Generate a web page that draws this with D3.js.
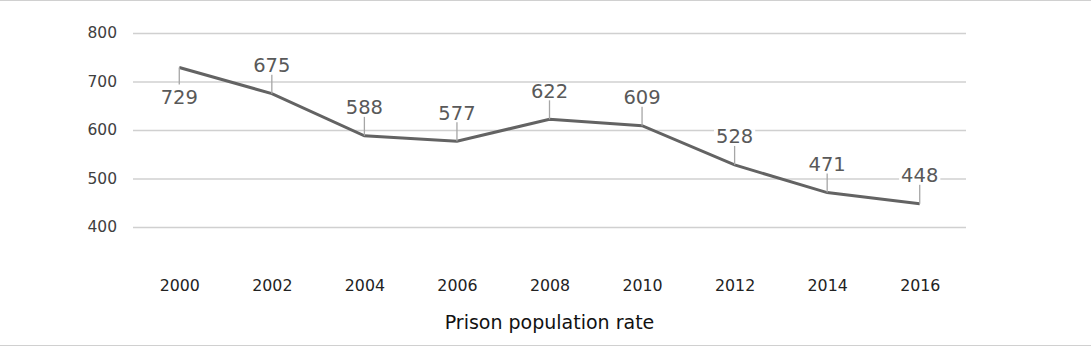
<!DOCTYPE html>
<html>
<head>
<meta charset="utf-8">
<script src="https://cdn.jsdelivr.net/npm/d3@7"></script>
<style>
html,body{margin:0;padding:0;background:#fff;}
svg{display:block;font-family:"DejaVu Sans",Verdana,sans-serif;}
</style>
</head>
<body>
<svg id="chart" width="1091" height="348"></svg>
<script>
const years = ["2000","2002","2004","2006","2008","2010","2012","2014","2016"];
const rates = [729, 675, 588, 577, 622, 609, 528, 471, 448];
const yTicks = [400, 500, 600, 700, 800];
const labelBelow = [true, false, false, false, false, false, false, false, false];
const title = "Prison population rate";

const W = 1091, H = 348;
const svg = d3.select("#chart");

// frame lines
svg.append("line").attr("x1",0).attr("x2",W).attr("y1",0.5).attr("y2",0.5)
  .attr("stroke","#d0d0d0").attr("stroke-width",1);
svg.append("line").attr("x1",0).attr("x2",W).attr("y1",345.5).attr("y2",345.5)
  .attr("stroke","#d0d0d0").attr("stroke-width",1);

const x = d3.scalePoint().domain(years).range([133, 966]).padding(0.5);
const y = d3.scaleLinear().domain([400, 800]).range([227, 33]);

// grid
const yAxis = d3.axisLeft(y).tickValues(yTicks).tickSize(0).tickPadding(16)
  .tickFormat(d3.format("d"));
const gy = svg.append("g").attr("transform","translate(133,0)").call(yAxis);
gy.select(".domain").remove();
gy.selectAll("text").attr("font-size",15.5).attr("fill","#404040")
  .attr("font-family","'DejaVu Sans',Verdana,sans-serif");
gy.selectAll(".tick").append("line").attr("x1",0).attr("x2",833)
  .attr("stroke","#d0d0d0").attr("stroke-width",1.3);

// x axis labels
const xAxis = d3.axisBottom(x).tickSize(0).tickPadding(0);
const gx = svg.append("g").attr("transform","translate(0,280)").call(xAxis);
gx.select(".domain").remove();
gx.selectAll("text").attr("font-size",15.8).attr("fill","#222")
  .attr("font-family","'DejaVu Sans',Verdana,sans-serif");

// line
const data = years.map((yr,i)=>({yr, v: rates[i], below: labelBelow[i]}));
const line = d3.line().x(d=>x(d.yr)).y(d=>y(d.v));
svg.append("path").datum(data).attr("d", line)
  .attr("fill","none").attr("stroke","#636363").attr("stroke-width",3)
  .attr("stroke-linejoin","miter");

// labels with leaders
const lg = svg.append("g");
data.forEach(d=>{
  const px = x(d.yr), py = y(d.v);
  const g = lg.append("g");
  if (d.below) {
    g.append("line").attr("x1",px).attr("x2",px).attr("y1",py).attr("y2",py+17)
      .attr("stroke","#a6a6a6").attr("stroke-width",1.3);
  } else {
    g.append("line").attr("x1",px).attr("x2",px).attr("y1",py-19).attr("y2",py)
      .attr("stroke","#a6a6a6").attr("stroke-width",1.3);
  }
  const t = g.append("text").attr("x",px).attr("y", d.below ? py+37 : py-21.5)
    .attr("text-anchor","middle").attr("font-size",19.5).attr("fill","#595959")
    .text(d.v);
  const bb = t.node().getBBox();
  g.insert("rect","text").attr("x",bb.x-2).attr("y",bb.y+4).attr("width",bb.width+4)
    .attr("height",bb.height-7).attr("fill","#fff");
});

svg.append("text").attr("x",549.5).attr("y",329).attr("text-anchor","middle")
  .attr("font-size",19).attr("fill","#111").text(title);
</script>
</body>
</html>
